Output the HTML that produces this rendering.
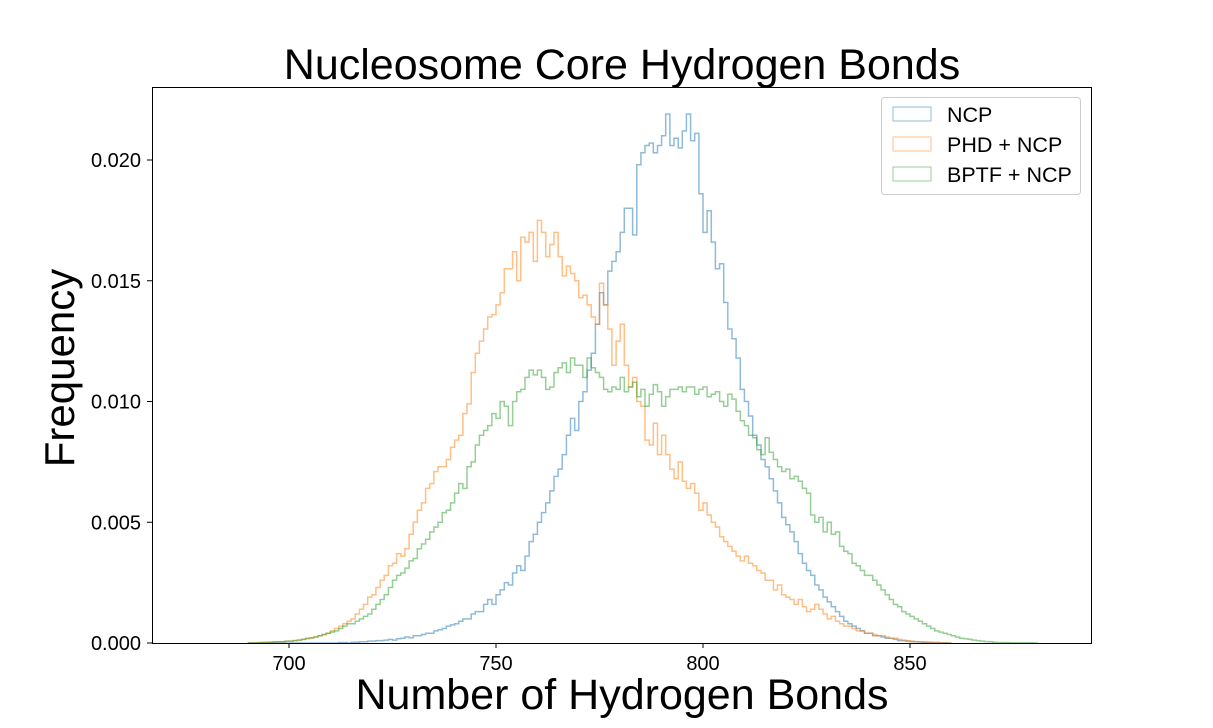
<!DOCTYPE html>
<html><head><meta charset="utf-8"><style>
body{margin:0;background:#fff}
svg text{font-family:"Liberation Sans",sans-serif}
</style></head><body>
<svg width="1213" height="723">
<text x="622" y="79" font-size="43" text-anchor="middle">Nucleosome Core Hydrogen Bonds</text>
<text x="622" y="709" font-size="43" text-anchor="middle">Number of Hydrogen Bonds</text>
<text transform="translate(74,368) rotate(-90)" font-size="42" text-anchor="middle">Frequency</text>
<g id="series"></g>
<rect x="152.5" y="87.5" width="939" height="556" fill="none" stroke="#000" stroke-width="1"/>
<g id="ticks"></g>
<g>
<rect x="881.5" y="97.5" width="199" height="97" rx="3" fill="#fff" fill-opacity="0.8" stroke="#ccc"/>
<rect x="893" y="107" width="38" height="14" fill="none" stroke="#1f77b4" stroke-opacity="0.5"/>
<text x="947" y="122" font-size="21.5">NCP</text>
<rect x="893" y="137" width="38" height="14" fill="none" stroke="#ff7f0e" stroke-opacity="0.5"/>
<text x="947" y="152" font-size="21.5">PHD + NCP</text>
<rect x="893" y="167" width="38" height="14" fill="none" stroke="#2ca02c" stroke-opacity="0.5"/>
<text x="947" y="182" font-size="21.5">BPTF + NCP</text>
</g>
</svg>
<script>
const binStart = 690;
const binWidth = 1;
const ncpValues = [0,0,0,0,0,0,0,0,0,0,0,0,0,0,0,0,0,0,0,0,
0,0,0.02,0.02,0,0.03,0.03,0.05,0.05,0.08,
0.08,0.1,0.1,0.12,0.15,0.12,0.18,0.2,0.25,0.22,
0.3,0.3,0.35,0.4,0.4,0.5,0.55,0.6,0.7,0.75,
0.8,0.9,1.0,1.0,1.2,1.3,1.3,1.6,1.8,1.6,
2.0,2.2,2.5,2.4,2.9,3.2,3.0,3.6,4.2,4.5,
5.0,5.4,5.8,6.3,6.9,7.2,7.8,8.6,9.3,8.8,
10.0,10.4,11.3,12.0,13.2,14.5,14.0,15.4,15.8,16.2,
17.0,18.0,18.0,16.9,19.8,20.3,20.6,20.7,20.3,20.6,
21.0,21.9,20.6,20.9,20.5,21.2,21.9,20.8,21.1,18.6,
17.0,17.9,16.6,15.5,15.7,14.1,13.0,12.6,11.8,10.5,
10.0,9.4,8.6,8.2,7.6,7.3,6.8,6.3,5.8,5.2,
4.9,4.6,4.2,3.7,3.3,3.0,2.8,2.4,2.2,1.9,
1.7,1.5,1.3,1.1,0.9,0.8,0.7,0.6,0.5,0.4,
0.4,0.3,0.3,0.25,0.2,0.2,0.15,0.1,0.1,0.08,
0.06,0.05,0.04,0.03,0.03,0.02,0.02,0.01,0.01,0];
const phdValues = [0,0,0.02,0.02,0.03,0.03,0.05,0.05,0.06,0.08,
0.08,0.1,0.12,0.15,0.18,0.2,0.25,0.3,0.35,0.4,
0.5,0.6,0.7,0.8,0.9,1.0,1.2,1.4,1.6,1.9,
2.0,2.3,2.6,2.8,3.2,3.3,3.7,3.6,3.9,4.5,
5.0,5.5,5.8,6.4,6.6,7.1,7.3,7.3,7.6,8.1,
8.4,8.6,9.5,9.9,11.2,12.0,12.5,13.0,13.5,13.6,
14.0,14.5,15.5,15.5,16.2,15.0,16.8,16.6,17.0,15.8,
17.5,17.0,16.0,16.5,17.0,16.0,15.2,15.6,15.3,15.0,
14.3,14.4,14.0,13.5,13.2,14.9,14.0,13.0,11.5,12.5,
13.2,11.5,10.6,11.0,10.0,9.8,8.4,8.2,9.1,7.8,
8.6,7.8,7.2,6.8,7.5,6.7,6.4,6.6,6.2,5.5,
5.8,5.3,5.0,4.8,4.4,4.2,4.0,3.8,3.6,3.4,
3.6,3.3,3.2,3.0,2.9,2.6,2.6,2.2,2.4,2.0,
1.9,1.8,1.6,1.8,1.5,1.3,1.4,1.6,1.4,1.2,
1.0,1.1,0.9,0.8,0.7,0.7,0.6,0.5,0.5,0.4,
0.4,0.35,0.3,0.3,0.25,0.2,0.2,0.15,0.12,0.1,
0.08,0.06,0.05,0.04,0.03,0.02,0.02,0.01,0.01,0];
const bptfValues = [0,0,0,0.02,0.02,0.03,0.04,0.05,0.05,0.07,
0.08,0.1,0.12,0.15,0.2,0.22,0.25,0.3,0.35,0.4,
0.45,0.5,0.6,0.7,0.8,0.8,0.9,1.0,1.1,1.2,
1.4,1.6,1.8,2.0,2.3,2.6,2.8,2.9,3.1,3.4,
3.5,3.9,4.1,4.3,4.6,4.8,5.0,5.4,5.5,5.8,
6.2,6.6,6.4,7.3,7.5,8.2,8.6,8.8,9.0,9.5,
9.3,10.0,9.8,9.0,10.0,10.4,10.5,11.0,11.3,11.1,
11.3,11.0,10.5,10.6,11.2,11.4,11.6,11.2,11.8,11.5,
11.5,11.0,11.8,11.4,11.2,11.0,10.5,10.4,10.6,10.5,
11.0,10.4,10.6,10.8,10.2,10.5,9.8,10.3,10.7,10.4,
9.8,10.2,10.5,10.5,10.6,10.4,10.6,10.6,10.3,10.5,
10.6,10.2,10.3,10.4,10.0,9.8,10.3,10.1,9.6,9.2,
9.0,8.6,8.5,8.0,7.8,8.5,7.9,7.6,7.3,7.1,
7.2,6.8,6.9,6.7,6.4,6.2,5.3,5.0,5.2,4.6,
5.0,4.5,4.6,4.0,3.8,3.7,3.3,3.2,3.0,2.8,
2.8,2.6,2.4,2.2,2.0,1.8,1.6,1.5,1.3,1.2,
1.1,1.0,0.9,0.8,0.7,0.6,0.5,0.45,0.4,0.35,
0.3,0.25,0.2,0.18,0.15,0.12,0.1,0.08,0.06,0.05,
0.03,0.02,0.02,0.02,0.01,0.01,0.01,0.01,0.01,0.01,0];
const xTicks = [700,750,800,850];
const yTicks = [0,0.005,0.010,0.015,0.020];
const yTickLabels = ["0.000","0.005","0.010","0.015","0.020"];
const valueScale = 0.001;

const NS = "http://www.w3.org/2000/svg";
function xs(v){ return 289 + (v-700)*4.14; }
function ys(v){ return 643 - v*24150; }

const sg = document.getElementById('series');
function drawSeries(vals, color, name){
  let d = 'M' + xs(binStart) + ',' + ys(0);
  vals.forEach((v,i)=>{
    d += 'V' + ys(v*valueScale).toFixed(1) + 'H' + xs(binStart+(i+1)*binWidth).toFixed(1);
  });
  d += 'V' + ys(0);
  const p = document.createElementNS(NS,'path');
  p.setAttribute('d', d);
  p.setAttribute('fill','none');
  p.setAttribute('stroke',color);
  p.setAttribute('stroke-opacity','0.5');
  p.setAttribute('stroke-width','1.5');
  
  
  sg.appendChild(p);
}
drawSeries(ncpValues,'#1f77b4','ncp-histogram');
drawSeries(phdValues,'#ff7f0e','phd-ncp-histogram');
drawSeries(bptfValues,'#2ca02c','bptf-ncp-histogram');

const tg = document.getElementById('ticks');
xTicks.forEach(t=>{
  const l = document.createElementNS(NS,'line');
  l.setAttribute('x1',xs(t)); l.setAttribute('x2',xs(t));
  l.setAttribute('y1',643); l.setAttribute('y2',648);
  l.setAttribute('stroke','#000');
  
  
  tg.appendChild(l);
  const tx = document.createElementNS(NS,'text');
  tx.setAttribute('x',xs(t)); tx.setAttribute('y',670);
  tx.setAttribute('font-size','20'); tx.setAttribute('text-anchor','middle');
  tx.textContent = t;
  
  
  tg.appendChild(tx);
});
yTicks.forEach((t,i)=>{
  const l = document.createElementNS(NS,'line');
  l.setAttribute('x1',147); l.setAttribute('x2',152);
  l.setAttribute('y1',ys(t)); l.setAttribute('y2',ys(t));
  l.setAttribute('stroke','#000');
  
  
  tg.appendChild(l);
  const tx = document.createElementNS(NS,'text');
  tx.setAttribute('x',141); tx.setAttribute('y',ys(t)+7);
  tx.setAttribute('font-size','20'); tx.setAttribute('text-anchor','end');
  tx.textContent = yTickLabels[i];
  
  
  tg.appendChild(tx);
});
</script>
</body></html>
